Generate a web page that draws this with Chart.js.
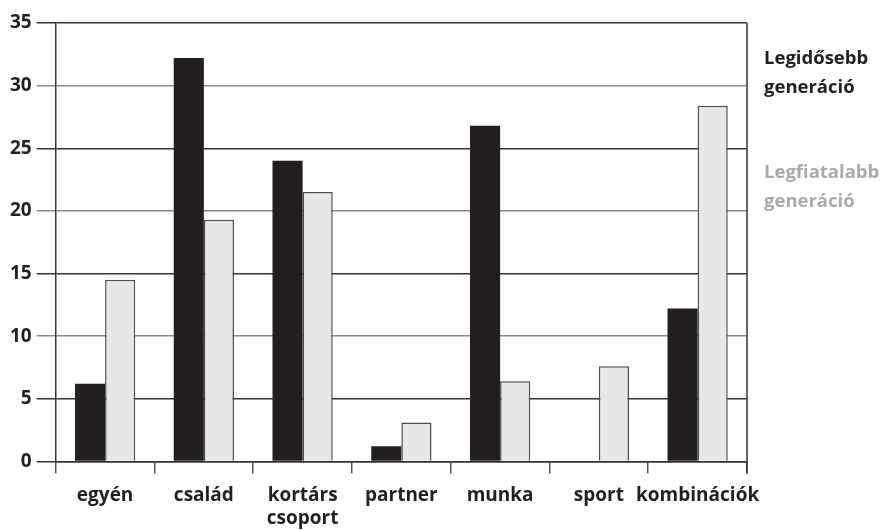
<!DOCTYPE html>
<html>
<head>
<meta charset="utf-8">
<script src="https://cdn.jsdelivr.net/npm/chart.js@4"></script>
<style>
  html, body { margin: 0; padding: 0; background: #fff; }
  #wrap { width: 887px; height: 530px; }
</style>
</head>
<body>
<div id="wrap"><canvas id="myChart" width="887" height="530"></canvas></div>
<script>
// categories along the x-axis
var categories = ["egyén", "család", ["kortárs", "csoport"], "partner", "munka", "sport", "kombinációk"];
// series values (percent)
var oldest = [6.2, 32.2, 24.0, 1.2, 26.8, 0, 12.2];
var youngest = [14.5, 19.3, 21.5, 3.1, 6.4, 7.6, 28.4];
var seriesNames = ["Legidősebb generáció", "Legfiatalabb generáció"];
// y-axis range
var yMin = 0, yMax = 35, yStep = 5;

var FONT = "'Open Sans', sans-serif";
var INK = "#231f20";

// legend drawn at the right, two lines per series
var sideLegend = {
  id: "sideLegend",
  afterDraw: function(chart) {
    var ctx = chart.ctx;
    var area = chart.chartArea;
    var tops = [41, 155];
    ctx.save();
    ctx.font = "bold 18.5px " + FONT;
    ctx.textAlign = "left";
    ctx.textBaseline = "alphabetic";
    chart.data.datasets.forEach(function(ds, i) {
      ctx.fillStyle = ds.legendColor;
      var words = ds.label.split(" ");
      words.forEach(function(w, j) {
        ctx.fillText(w, area.right + 17, area.top + tops[i] + j * 29);
      });
    });
    // right border of the plot
    ctx.strokeStyle = "#333";
    ctx.lineWidth = 1.5;
    ctx.beginPath();
    ctx.moveTo(area.right, area.top);
    ctx.lineTo(area.right, area.bottom + 12);
    ctx.stroke();
    ctx.restore();
  }
};

var myChart = new Chart("myChart", {
  type: "bar",
  data: {
    labels: categories,
    datasets: [
      {
        label: seriesNames[0],
        data: oldest,
        backgroundColor: INK,
        borderWidth: 0,
        legendColor: INK,
        categoryPercentage: 0.61,
        barPercentage: 1.0
      },
      {
        label: seriesNames[1],
        data: youngest,
        backgroundColor: "#e6e7e8",
        borderColor: "#4d4d4d",
        borderWidth: 1.5,
        borderSkipped: "bottom",
        legendColor: "#a7a9ac",
        categoryPercentage: 0.61,
        barPercentage: 1.0
      }
    ]
  },
  options: {
    responsive: false,
    animation: false,
    layout: { padding: { left: 5, right: 140, top: 23, bottom: -11 } },
    plugins: {
      legend: { display: false },
      tooltip: { enabled: false }
    },
    scales: {
      x: {
        offset: true,
        grid: {
          offset: true,
          drawOnChartArea: false,
          drawTicks: true,
          tickLength: 12,
          color: "#555",
          lineWidth: 1.5
        },
        border: { color: "#333", width: 1.5 },
        ticks: {
          color: INK,
          font: { family: FONT, size: 19, weight: "bold", lineHeight: 1.2 },
          padding: 11,
          maxRotation: 0,
          autoSkip: false
        }
      },
      y: {
        min: yMin,
        max: yMax,
        grid: {
          color: function(c) {
            var v = c.tick ? c.tick.value : 0;
            return (v % 10 === 0 && v !== 0) ? "#8a8a8a" : "#333";
          },
          lineWidth: 1.5,
          tickLength: 19
        },
        border: { color: "#333", width: 1.5 },
        ticks: {
          stepSize: yStep,
          color: INK,
          font: { family: FONT, size: 19, weight: "bold" },
          padding: 5
        }
      }
    }
  },
  plugins: [sideLegend]
});
</script>
</body>
</html>
